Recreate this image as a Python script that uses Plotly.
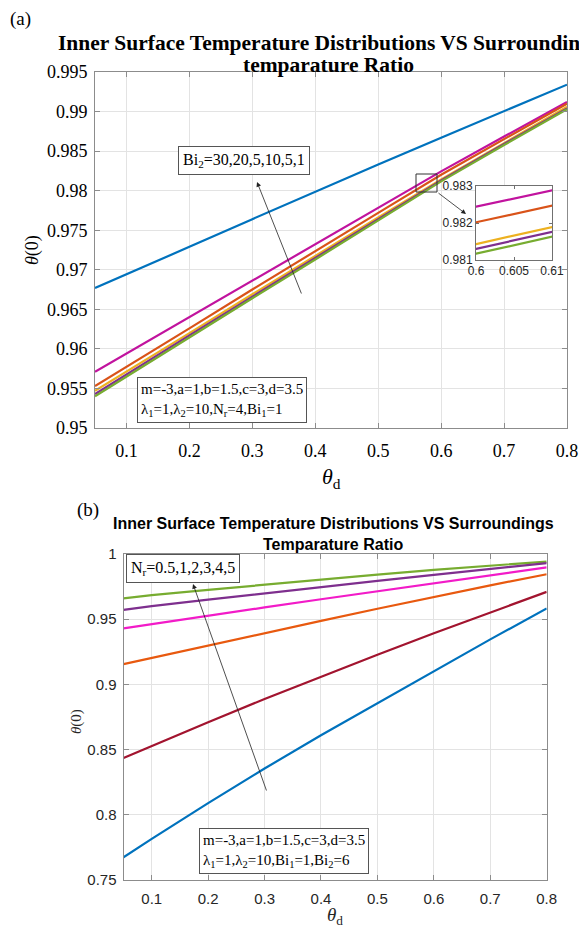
import plotly.graph_objects as go

# ---------------- data (a) ----------------
theta_a = [0.05, 0.1, 0.2, 0.3, 0.4, 0.5, 0.6, 0.7, 0.8]
a_blue    = [0.9677, 0.9694, 0.9729, 0.9764, 0.9799, 0.9833, 0.9867, 0.9901, 0.9934]
a_magenta = [0.9571, 0.9594, 0.9640, 0.9686, 0.9732, 0.9778, 0.98244, 0.98684, 0.9912]
a_orange  = [0.9553, 0.9577, 0.9626, 0.9675, 0.9723, 0.9772, 0.98202, 0.98652, 0.9910]
a_yellow  = [0.9547, 0.9571, 0.9620, 0.9669, 0.9717, 0.9766, 0.98143, 0.98603, 0.9906]
a_purple  = [0.9543, 0.9568, 0.9617, 0.9666, 0.9715, 0.9764, 0.98130, 0.98590, 0.9904]
a_green   = [0.9540, 0.9565, 0.9614, 0.9664, 0.9713, 0.9762, 0.98117, 0.98577, 0.9903]

a_xticks = [0.1, 0.2, 0.3, 0.4, 0.5, 0.6, 0.7, 0.8]
a_xticklabels = ["0.1", "0.2", "0.3", "0.4", "0.5", "0.6", "0.7", "0.8"]
a_yticks = [0.95, 0.955, 0.96, 0.965, 0.97, 0.975, 0.98, 0.985, 0.99, 0.995]
a_yticklabels = ["0.95", "0.955", "0.96", "0.965", "0.97", "0.975", "0.98", "0.985", "0.99", "0.995"]
inset_xticks = [0.6, 0.605, 0.61]
inset_xticklabels = ["0.6", "0.605", "0.61"]
inset_yticks = [0.981, 0.982, 0.983]
inset_yticklabels = ["0.981", "0.982", "0.983"]

# ---------------- data (b) ----------------
theta_b = [0.05, 0.1, 0.2, 0.3, 0.4, 0.5, 0.6, 0.7, 0.8]
b_green   = [0.9660, 0.9685, 0.9725, 0.9765, 0.9804, 0.9842, 0.9879, 0.9913, 0.9942]
b_purple  = [0.9572, 0.9600, 0.9650, 0.9699, 0.9747, 0.9794, 0.9840, 0.9885, 0.9930]
b_magenta = [0.9430, 0.9463, 0.9527, 0.9590, 0.9653, 0.9715, 0.9777, 0.9838, 0.9897]
b_orange  = [0.9156, 0.9204, 0.9299, 0.9393, 0.9487, 0.9580, 0.9672, 0.9760, 0.9845]
b_darkred = [0.8435, 0.8528, 0.8710, 0.8888, 0.9060, 0.9228, 0.9392, 0.9553, 0.9710]
b_blue    = [0.7674, 0.7815, 0.8090, 0.8355, 0.8610, 0.8855, 0.9105, 0.9345, 0.9582]

b_xticks = [0.1, 0.2, 0.3, 0.4, 0.5, 0.6, 0.7, 0.8]
b_xticklabels = ["0.1", "0.2", "0.3", "0.4", "0.5", "0.6", "0.7", "0.8"]
b_yticks = [0.75, 0.8, 0.85, 0.9, 0.95, 1.0]
b_yticklabels = ["0.75", "0.8", "0.85", "0.9", "0.95", "1"]

W, H = 579, 932
def px(x):
    return x / W
def py(y):
    return 1 - y / H

SERIF = "Liberation Serif"
SANS = "Liberation Sans"

fig = go.Figure()

a_series = [
    (a_blue, "#0072BD"),
    (a_magenta, "#C1139E"),
    (a_orange, "#D95319"),
    (a_yellow, "#EDB120"),
    (a_purple, "#7E2F8E"),
    (a_green, "#77AC30"),
]
for ys, c in a_series:
    fig.add_trace(go.Scatter(x=theta_a, y=ys, mode="lines", line=dict(color=c, width=2.2),
                             xaxis="x", yaxis="y", hoverinfo="skip"))

b_series = [
    (b_green, "#77AC30"),
    (b_purple, "#7E2F8E"),
    (b_magenta, "#F21BC8"),
    (b_orange, "#E8590F"),
    (b_darkred, "#A2142F"),
    (b_blue, "#0072BD"),
]
for ys, c in b_series:
    fig.add_trace(go.Scatter(x=theta_b, y=ys, mode="lines", line=dict(color=c, width=2.2),
                             xaxis="x2", yaxis="y2", hoverinfo="skip"))

# inset traces
for ys, c in a_series[1:]:
    fig.add_trace(go.Scatter(x=theta_a, y=ys, mode="lines", line=dict(color=c, width=2.2),
                             xaxis="x3", yaxis="y3", hoverinfo="skip"))

axcol = "#8c8c8c"
gridcol = "#e3e3e3"

common = dict(showline=True, linecolor=axcol, linewidth=1, mirror="ticks", ticks="inside",
              ticklen=5, tickcolor=axcol, showgrid=True, gridcolor=gridcol, gridwidth=1,
              zeroline=False, tickmode="array", automargin=False)
inset_common = dict(showline=True, linecolor="#707070", mirror="ticks", ticks="inside", ticklen=3,
                    tickcolor="#707070", showgrid=False, zeroline=False, automargin=False,
                    tickmode="array", tickfont=dict(family=SANS, size=12, color="#262626"))

fig.update_layout(
    width=W, height=H, margin=dict(l=0, r=0, t=0, b=0, pad=0, autoexpand=False), autosize=False,
    paper_bgcolor="white", plot_bgcolor="white", showlegend=False,
    xaxis=dict(domain=[px(95), px(567)], range=[0.05, 0.8], anchor="y",
               tickvals=a_xticks, ticktext=a_xticklabels,
               tickfont=dict(family=SERIF, size=18, color="black"), ticklabelstandoff=6, **common),
    yaxis=dict(domain=[py(428), py(72)], range=[0.95, 0.995], anchor="x",
               tickvals=a_yticks, ticktext=a_yticklabels,
               tickfont=dict(family=SERIF, size=18, color="black"), ticklabelstandoff=3, **common),
    xaxis2=dict(domain=[px(123.5), px(546.7)], range=[0.05, 0.8], anchor="y2",
                tickvals=b_xticks, ticktext=b_xticklabels,
                tickfont=dict(family=SANS, size=15, color="#262626"), ticklabelstandoff=5, **common),
    yaxis2=dict(domain=[py(880), py(554)], range=[0.75, 1.0], anchor="x2",
                tickvals=b_yticks, ticktext=b_yticklabels,
                tickfont=dict(family=SANS, size=15, color="#262626"), ticklabelstandoff=3, **common),
    xaxis3=dict(domain=[px(476), px(552)], range=[0.6, 0.61], anchor="y3",
                tickvals=inset_xticks, ticktext=inset_xticklabels, **inset_common),
    yaxis3=dict(domain=[py(260), py(186)], range=[0.981, 0.983], anchor="x3",
                tickvals=inset_yticks, ticktext=inset_yticklabels, **inset_common),
)

# white background behind inset to hide main grid lines
fig.add_shape(type="rect", xref="paper", yref="paper", x0=px(476), x1=px(552), y0=py(260), y1=py(186),
              fillcolor="white", line=dict(width=0), layer="between")
# zoom rectangle in main axes
fig.add_shape(type="rect", xref="paper", yref="paper", x0=px(416), x1=px(437), y0=py(192), y1=py(174),
              line=dict(color="#333333", width=1), fillcolor="rgba(0,0,0,0)", layer="above")

ann = []
def text(x, y, s, font, xanchor="center", yanchor="middle", **kw):
    ann.append(dict(x=px(x), y=py(y), xref="paper", yref="paper", text=s, showarrow=False,
                    xanchor=xanchor, yanchor=yanchor, font=font, **kw))

def arrow(xh, yh, xt, yt, head=2, size=1.2):
    ann.append(dict(x=px(xh), y=py(yh), xref="paper", yref="paper", ax=xt - xh, ay=yt - yh,
                    axref="pixel", ayref="pixel", text="", showarrow=True, arrowhead=head,
                    arrowsize=size, arrowwidth=0.8, arrowcolor="#222222"))

# panel (a)
text(8, 19, "(a)", dict(family=SERIF, size=19, color="black"), xanchor="left")
text(329, 43, "<b>Inner Surface Temperature Distributions VS Surroundings</b>",
     dict(family=SERIF, size=21.5, color="black"))
text(329, 65, "<b>temparature Ratio</b>", dict(family=SERIF, size=21.5, color="black"))
text(33, 250, "<i>θ</i>(0)", dict(family=SERIF, size=18, color="black"), textangle=-90)
text(331, 478, "<i>θ</i><sub>d</sub>", dict(family=SERIF, size=22, color="black"))
text(178, 160, "Bi<sub>2</sub>=30,20,5,10,5,1", dict(family=SERIF, size=16, color="black"),
     xanchor="left", bordercolor="#555555", borderwidth=1, borderpad=4, bgcolor="white")
text(137, 400, "m=-3,a=1,b=1.5,c=3,d=3.5<br>λ<sub>1</sub>=1,λ<sub>2</sub>=10,N<sub>r</sub>=4,Bi<sub>1</sub>=1",
     dict(family=SERIF, size=15, color="black"), xanchor="left", align="left",
     bordercolor="#555555", borderwidth=1, borderpad=3, bgcolor="white")
arrow(257, 182, 302, 295)
arrow(466, 214, 437, 192)

# panel (b)
text(75, 510, "(b)", dict(family=SERIF, size=19, color="black"), xanchor="left")
text(333, 523, "<b>Inner Surface Temperature Distributions VS Surroundings</b>",
     dict(family=SANS, size=16, color="black"))
text(333, 544, "<b>Temparature Ratio</b>", dict(family=SANS, size=16, color="black"))
text(76, 722, "<i>θ</i>(0)", dict(family=SERIF, size=15, color="#262626"), textangle=-90)
text(335, 916, "<i>θ</i><sub>d</sub>", dict(family=SERIF, size=19, color="#262626"))
text(126, 568, "N<sub>r</sub>=0.5,1,2,3,4,5", dict(family=SERIF, size=16, color="black"),
     xanchor="left", bordercolor="#555555", borderwidth=1, borderpad=4, bgcolor="white")
text(199, 851, "m=-3,a=1,b=1.5,c=3,d=3.5<br>λ<sub>1</sub>=1,λ<sub>2</sub>=10,Bi<sub>1</sub>=1,Bi<sub>2</sub>=6",
     dict(family=SERIF, size=15, color="black"), xanchor="left", align="left",
     bordercolor="#555555", borderwidth=1, borderpad=3, bgcolor="white")
arrow(193, 584, 267, 792)

fig.update_layout(annotations=ann)
fig.write_html("out.html", config={"responsive": False, "displayModeBar": False},
               post_script="document.body.style.margin='0';document.body.style.overflow='hidden';")
